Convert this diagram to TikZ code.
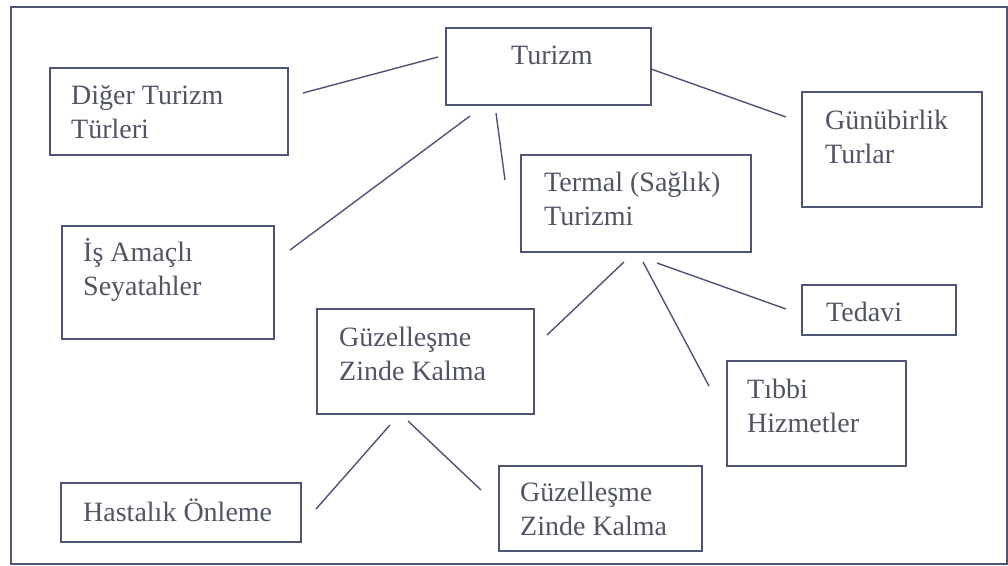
\documentclass[tikz,border=0pt]{standalone}
\usepackage{fontspec}
\setmainfont{Liberation Serif}
\definecolor{linec}{RGB}{78,84,118}
\definecolor{textc}{RGB}{80,84,100}
\begin{document}
\begin{tikzpicture}[x=1pt,y=-1pt,
  box/.style={draw=linec,line width=1.8pt,rectangle,inner sep=0pt,anchor=north west},
  lab/.style={anchor=base west,inner sep=0pt,align=left,text=textc,font=\fontsize{28}{33.5}\selectfont},
  conn/.style={draw=linec,line width=1.4pt}]
\useasboundingbox (0,0) rectangle (1008,565);
\node[draw=linec,line width=2pt,rectangle,inner sep=0pt,anchor=north west,minimum width=996pt,minimum height=557pt] (frame) at (10,6) {};
% boxes
\node[box,minimum width=205pt,minimum height=77pt] (tur) at (445,27) {};
\node[box,minimum width=238pt,minimum height=87pt] (dig) at (49,67) {};
\node[box,minimum width=212pt,minimum height=113pt] (isa) at (61,225) {};
\node[box,minimum width=180pt,minimum height=115pt] (gun) at (801,91) {};
\node[box,minimum width=230pt,minimum height=97pt] (ter) at (520,154) {};
\node[box,minimum width=154pt,minimum height=50pt] (ted) at (801,284) {};
\node[box,minimum width=179pt,minimum height=105pt] (tib) at (726,360) {};
\node[box,minimum width=217pt,minimum height=105pt] (guza) at (316,308) {};
\node[box,minimum width=240pt,minimum height=59pt] (has) at (60,482) {};
\node[box,minimum width=203pt,minimum height=85pt] (guzb) at (498,465) {};
% labels (base = baseline of last line)
\node[lab] (turT) at (511,64) {Turizm};
\node[lab] (digT) at (71,138) {Diğer Turizm\\Türleri};
\node[lab] (isaT) at (83,295) {İş Amaçlı\\Seyatahler};
\node[lab] (gunT) at (825,163) {Günübirlik\\Turlar};
\node[lab] (terT) at (544,225) {Termal (Sağlık)\\Turizmi};
\node[lab] (tedT) at (826,321) {Tedavi};
\node[lab] (tibT) at (747,432) {Tıbbi\\Hizmetler};
\node[lab] (guzaT) at (339,380) {Güzelleşme\\Zinde Kalma};
\node[lab] (hasT) at (83,521) {Hastalık Önleme};
\node[lab] (guzbT) at (520,535) {Güzelleşme\\Zinde Kalma};
% connector ends
\coordinate (c1a) at (303,93);  \coordinate (c1b) at (438,57);
\coordinate (c2a) at (290,250); \coordinate (c2b) at (470,116);
\coordinate (c3a) at (496,113); \coordinate (c3b) at (505,180);
\coordinate (c4a) at (651,69);  \coordinate (c4b) at (786,117);
\coordinate (c5a) at (624,262); \coordinate (c5b) at (547,335);
\coordinate (c6a) at (643,262); \coordinate (c6b) at (709,386);
\coordinate (c7a) at (657,263); \coordinate (c7b) at (786,309);
\coordinate (c8a) at (390,425); \coordinate (c8b) at (316,509);
\coordinate (c9a) at (408,421); \coordinate (c9b) at (481,490);
\foreach \i in {1,...,9} {\draw[conn] (c\i a) -- (c\i b);}
\end{tikzpicture}
\end{document}
